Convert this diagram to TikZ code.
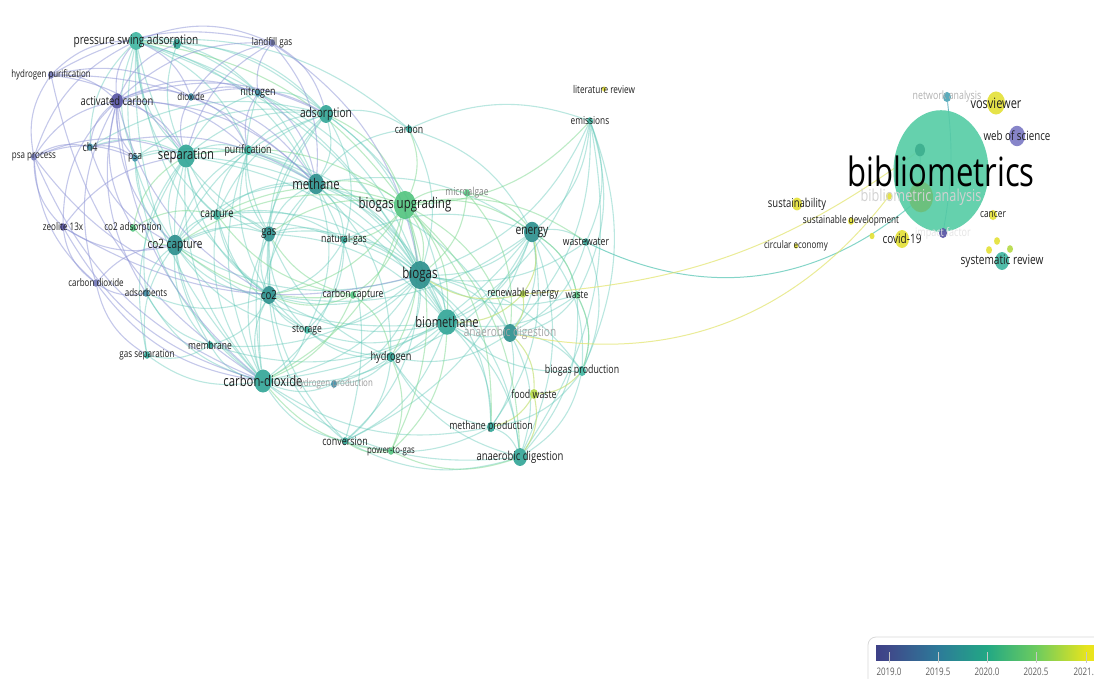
\documentclass[tikz,border=0pt]{standalone}
\usepackage{fontspec}
\setmainfont{Open Sans}
\usetikzlibrary{shapes.geometric,backgrounds,calc}
\pgfdeclarelayer{lab}
\pgfsetlayers{background,main,lab}
\definecolor{cpur}{HTML}{5552A3}
\definecolor{cpur2}{HTML}{7076B8}
\definecolor{cpurl}{HTML}{7B78C4}
\definecolor{cblu}{HTML}{3F8DA8}
\definecolor{cblu2}{HTML}{4AA3B5}
\definecolor{ctea}{HTML}{30A596}
\definecolor{cdtea}{HTML}{2A8F8C}
\definecolor{ctea2}{HTML}{3DB5A0}
\definecolor{cgrn}{HTML}{52C47E}
\definecolor{cygr}{HTML}{B5DA45}
\definecolor{cyel}{HTML}{E4E136}
\definecolor{cbib}{HTML}{55CCA5}
\definecolor{cbibd}{HTML}{3DAE8E}
\definecolor{cbag}{HTML}{6DBF78}
\definecolor{eteal}{HTML}{5CC7B6}
\definecolor{epur}{HTML}{8C93D6}
\definecolor{egrn}{HTML}{7CD88E}
\definecolor{eyg}{HTML}{C2E070}
\definecolor{eyel}{HTML}{E2E46A}
\definecolor{v0}{HTML}{3D4087}
\definecolor{v1}{HTML}{3F4A8A}
\definecolor{v2}{HTML}{2D7A99}
\definecolor{v3}{HTML}{22A884}
\definecolor{v4}{HTML}{6CCB5F}
\definecolor{v5}{HTML}{E6E41E}
\definecolor{v6}{HTML}{F2E51A}
\pgfdeclarehorizontalshading{viridis}{100bp}{color(0bp)=(v0); color(25bp)=(v0); color(27.9bp)=(v1); color(38.8bp)=(v2); color(49.8bp)=(v3); color(60.7bp)=(v4); color(71.9bp)=(v5); color(75bp)=(v6); color(100bp)=(v6)}
\tikzset{
 kdot/.style={ellipse, inner sep=0pt, draw=none, fill opacity=0.9},
 klab/.style={inner sep=0pt, text=black!88},
 te/.style={eteal, line width=1.1pt, draw opacity=0.42},
 tp/.style={epur, line width=1.1pt, draw opacity=0.5},
 tg/.style={egrn, line width=1.1pt, draw opacity=0.5},
 tyg/.style={eyg, line width=1.1pt, draw opacity=0.65},
 tyl/.style={eyel, line width=1pt, draw opacity=0.7},
}
\newcommand\vstretch[1]{\scalebox{1}[1.3]{#1}}
\newcommand\kw[7]{%
 \node[kdot, minimum width=#4*2pt, minimum height=#4*2.56pt, fill=#5] (#1) at (#2,#3) {};%
 \begin{pgfonlayer}{lab}\node[klab, font=\fontsize{#6}{#6}\selectfont] (#1-l) at (#2,#3) {\vstretch{#7}};\end{pgfonlayer}}
\newcommand\kdotonly[5]{\node[kdot, minimum width=#4*2pt, minimum height=#4*2.56pt, fill=#5] (#1) at (#2,#3) {};}
\newcommand\kedge[3]{\draw[#1] let \p1=(#2.center),\p2=(#3.center),\p3=(cen),
 \n1={((\x1-\x3)/100)*((\y2-\y3)/100)-((\y1-\y3)/100)*((\x2-\x3)/100)},
 \n2={scalar((\n1>0)*(-44)+22)} in (#2) to[bend left=\n2] (#3);}
\begin{document}
\begin{tikzpicture}[x=1pt,y=-1pt]
\useasboundingbox (0,0) rectangle (1094,678);
\coordinate (cen) at (300,250);
% ---------------- left cluster
\kw{psa1}{136}{41}{7}{ctea2}{10.1}{pressure swing adsorption}
\kdotonly{psx}{177}{44}{4}{ctea}
\kw{lfg}{272}{43}{3}{cpur2}{8.1}{landfill gas}
\kw{hp}{51}{75}{3}{cpur2}{7.9}{hydrogen purification}
\kw{ac}{117}{101}{6}{cpur}{9.4}{activated carbon}
\kw{dio}{191}{97}{3}{cblu}{8}{dioxide}
\kw{nit}{258}{93}{3}{cblu}{8.9}{nitrogen}
\kw{ads}{326}{114}{7}{ctea}{10.2}{adsorption}
\kw{psap}{34}{157}{3}{cpur2}{8}{psa process}
\kw{ch4}{90}{147}{3}{cblu}{9}{ch4}
\kw{psa}{135}{158}{3}{cblu}{8.5}{psa}
\kw{sep}{186}{156}{9}{ctea}{11.3}{separation}
\kw{pur}{248}{150}{4}{ctea2}{8.8}{purification}
\kw{carb}{409}{129}{3}{ctea}{8.7}{carbon}
\kw{me}{316}{184}{8}{cdtea}{11.3}{methane}
\kw{mic}{467}{193}{3}{cgrn}{8.4}{\textcolor{gray}{microalgae}}
\kw{bu}{405}{205}{11}{cgrn}{11.5}{biogas upgrading}
\kw{lit}{604}{89}{2}{cyel}{8.2}{literature review}
\kw{emi}{590}{121}{3}{ctea2}{8.3}{emissions}
\kw{cap}{217}{215}{4}{ctea2}{9.3}{capture}
\kw{zeo}{63}{227}{3}{cpur}{8.1}{zeolite 13x}
\kw{co2a}{133}{228}{3}{cgrn}{8.2}{co2 adsorption}
\kw{cc}{175}{245}{8}{cdtea}{10}{co2 capture}
\kw{gas}{269}{234}{6}{cdtea}{9.5}{gas}
\kw{ng}{344}{240}{3}{ctea}{8.7}{natural-gas}
\kw{en}{532}{232}{8}{cdtea}{10.3}{energy}
\kw{ww}{586}{242}{3}{ctea}{8.6}{wastewater}
\kw{cdx}{96}{283}{3}{cpur2}{8}{carbon dioxide}
\kw{adsb}{146}{293}{3}{cblu}{8}{adsorbents}
\kw{co2}{269}{295}{7}{cdtea}{9.7}{co2}
\kw{bg}{420}{275}{11}{cdtea}{11.6}{biogas}
\kw{ccap}{353}{295}{3}{cgrn}{8.6}{carbon capture}
\kw{re}{523}{294}{3}{cygr}{8.6}{renewable energy}
\kw{was}{577}{295}{3}{cgrn}{8.3}{waste}
\kw{sto}{307}{330}{3}{ctea2}{8.5}{storage}
\kw{bm}{447}{322}{10}{ctea}{11.2}{biomethane}
\kw{ad1}{510}{333}{7}{cdtea}{10.1}{\textcolor{gray!70}{anaerobic digestion}}
\kw{mem}{210}{345}{3}{ctea}{8.5}{membrane}
\kw{hyd}{391}{357}{4}{ctea}{9.2}{hydrogen}
\kw{gs}{147}{355}{3}{ctea}{8.1}{gas separation}
\kw{cd}{263}{381}{9}{ctea}{11.3}{carbon-dioxide}
\kw{hprod}{334}{384}{3}{cblu}{7.9}{\textcolor{gray!80}{hydrogen production}}
\kw{bp}{582}{371}{4}{ctea2}{8.8}{biogas production}
\kw{fw}{534}{394}{4}{cygr}{8.8}{food waste}
\kw{mp}{491}{427}{4}{ctea}{8.7}{methane production}
\kw{conv}{345}{441}{3}{ctea}{8.9}{conversion}
\kw{ptg}{391}{451}{3}{cgrn}{7.8}{power-to-gas}
\kw{ad2}{520}{457}{7}{ctea}{9.5}{anaerobic digestion}
% ---------------- right cluster
\kw{bib}{941}{171}{47.5}{cbib}{31}{\textcolor{black}{bibliometrics}}
\kdotonly{d6}{920}{150}{5}{cbibd}
\kw{ba}{921}{197}{12}{cbag}{12.7}{\textcolor{gray!35}{bibliometric analysis}}
\kw{na}{947}{97}{4}{cblu2}{8.8}{\textcolor{gray!60}{network analysis}}
\kw{vos}{996}{103}{9}{cyel}{11}{vosviewer}
\kw{wos}{1017}{136}{8}{cpurl}{9.8}{web of science}
\kw{sus}{797}{204}{5}{cyel}{9.5}{sustainability}
\kw{sd}{851}{221}{3}{cyel}{8.2}{sustainable development}
\kw{cov}{902}{239}{7}{cyel}{10}{covid-19}
\kw{ce}{796}{246}{2}{cyel}{8}{circular economy}
\kw{can}{993}{215}{4}{cyel}{8.4}{cancer}
\kw{sr}{1002}{261}{7}{ctea2}{10.1}{systematic review}
\kw{imf}{943}{233}{4}{cpur}{9}{\textcolor{gray!20}{impact factor}}
\kdotonly{d1}{889}{196}{3}{cyel}
\kdotonly{d2}{872}{236}{2.5}{cyel}
\kdotonly{d3}{997}{241}{3}{cyel}
\kdotonly{d4}{989}{250}{3}{cyel}
\kdotonly{d5}{1010}{249}{3}{cygr}
% ---------------- edges
\begin{pgfonlayer}{background}
\fill[white] (0,0) rectangle (1094,678);
\foreach \a/\b in {bg/me, bg/bm, bg/ad1, bg/ad2, bg/cd, bg/co2, bg/sep, bg/ads, bg/en, bg/gas, bg/cc, bg/psa1, bg/hyd, bg/mp, bg/bp, bg/ww, bg/was, bg/carb, bg/ng, bg/sto, bg/cap, bg/emi, bg/conv, bg/pur, bg/nit, bg/mem, bg/hprod,
 bm/me, bm/cd, bm/co2, bm/ad1, bm/ad2, bm/en, bm/hyd, bm/conv, bm/mp, bm/bp, bm/sep, bm/ads, bm/cc, bm/gas, bm/ng, bm/sto, bm/was, bm/emi, bm/psa1, bm/mem, bm/pur,
 cd/co2, cd/sep, cd/cc, cd/me, cd/ads, cd/cap, cd/gas, cd/mem, cd/gs, cd/adsb, cd/sto, cd/hyd, cd/hprod, cd/conv, cd/psa1, cd/pur, cd/ng, cd/ad2, cd/en, cd/mp, cd/psa,
 co2/cc, co2/sep, co2/me, co2/cap, co2/gas, co2/ads, co2/hyd, co2/sto, co2/mem, co2/psa1, co2/ng, co2/adsb, co2/pur, co2/en, co2/conv,
 sep/psa1, sep/ads, sep/me, sep/cc, sep/cap, sep/gas, sep/pur, sep/psa, sep/ch4, sep/nit, sep/mem, sep/adsb, sep/gs,
 me/psa1, me/ads, me/gas, me/cap, me/cc, me/ng, me/pur, me/carb, me/hyd, me/en, me/ad1, me/psa, me/conv, me/sto,
 cc/ads, cc/cap, cc/psa1, cc/gas, cc/adsb, cc/pur, cc/mem, cc/gs, cc/psa, cc/ng, cc/sto,
 ads/psa1, ads/nit, ads/pur, ads/gas, ads/cap, ads/carb, ads/psa, ads/ch4, ads/ng,
 psa1/nit, psa1/ch4, psa1/psa, psa1/pur, psa1/cap, psa1/gas, psa1/psx, psx/sep, psx/ads, psx/me,
 en/ad1, en/ad2, en/emi, en/ww, en/was, en/bp, en/mp, en/hyd, en/carb, en/ng, en/conv,
 ad1/ad2, ad1/mp, ad1/bp, ad1/was, ad1/ww, ad1/hyd, ad1/emi,
 ad2/mp, ad2/bp, ad2/hyd, ad2/conv, ad2/was, ad2/emi,
 gas/cap, gas/ng, gas/pur, gas/nit, gas/sto, gas/hyd, gas/conv,
 hyd/conv, hyd/hprod, hyd/sto, hyd/mp,
 emi/ww, emi/was, emi/bp, cap/pur, cap/sto, cap/ng, mem/gs, mem/adsb, conv/mp, bp/was, bp/ww, mp/bp, ng/sto, carb/emi, carb/psa1}
 {\kedge{te}{\a}{\b}}
\foreach \a/\b in {bu/bg, bu/me, bu/gas, bu/ng, bu/carb, bu/mic, bu/hyd, bu/cap, bu/ptg, bu/ccap, bu/emi, bu/ww, bu/mp, bu/ad1, bu/ad2, bu/en, bu/co2, bu/cd, bu/sep, bu/ads, bu/cc, bu/psa1, bu/bm, mic/en, mic/ad1, mic/bg, ptg/hyd, ptg/ad2, ptg/bm, ptg/cd, ptg/conv, ccap/co2, ccap/cd, ccap/hyd, ccap/gas, ccap/cap, ccap/cc, co2a/cc, co2a/cap, co2a/sep, was/bp, was/en}
 {\kedge{tg}{\a}{\b}}
\foreach \a/\b in {re/ad1, re/en, re/bg, re/bm, fw/ad1, fw/ad2, fw/bp, fw/mp}
 {\kedge{tyg}{\a}{\b}}
\foreach \a/\b in {ac/hp, ac/dio, ac/psap, ac/ch4, ac/psa, ac/zeo, ac/cdx, ac/nit, ac/lfg, ac/adsb, ac/psx, ac/psa1, ac/sep, ac/ads, ac/cc, ac/co2, ac/cd, ac/me, ac/pur, ac/co2a, hp/psap, hp/lfg, hp/dio, hp/psa1, hp/sep, hp/cd, hp/me, psap/zeo, psap/ch4, psap/cdx, psap/psa, psap/sep, psap/psa1, psap/cd, psap/co2, zeo/cdx, zeo/cc, zeo/cd, zeo/sep, zeo/bg, lfg/dio, lfg/nit, lfg/psa1, lfg/ads, lfg/bg, lfg/me, lfg/sep, dio/nit, dio/psa1, dio/sep, dio/ads, dio/me, cdx/cc, cdx/cd, cdx/adsb, cdx/gs, ch4/psa, ch4/me, nit/me, nit/pur, dio/pur, ch4/cc}
 {\kedge{tp}{\a}{\b}}
% long links to the right cluster
\draw[eteal, line width=1pt, draw opacity=0.75] (ww) to[bend right=33] (ba);
\draw[tyl] (re) to[bend right=16] (d6);
\draw[tyl] (ad1) to[bend right=32] (d1);
\draw[cblu2, line width=0.9pt, draw opacity=0.8] (na) to[bend left=8] (imf);
\draw[cbibd, line width=0.9pt, draw opacity=0.7] (d6) to (ba);
\end{pgfonlayer}
% ---------------- legend
\draw[gray!30, line width=0.8pt, rounded corners=8pt] (868,637) rectangle (1120,700);
\shade[shading=viridis] (876,645) rectangle (1100,660);
\foreach \x/\t [count=\i] in {889/2019.0, 938/2019.5, 987/2020.0, 1036/2020.5, 1086/2021.0}{
 \draw[white!55!gray, line width=0.6pt] (\x,652) -- (\x,663);
 \node[font=\fontsize{8}{8}\selectfont, text=gray!75!black, inner sep=0pt] (tick\i) at (\x,672) {\vstretch{\t}};
}
\end{tikzpicture}
\end{document}
